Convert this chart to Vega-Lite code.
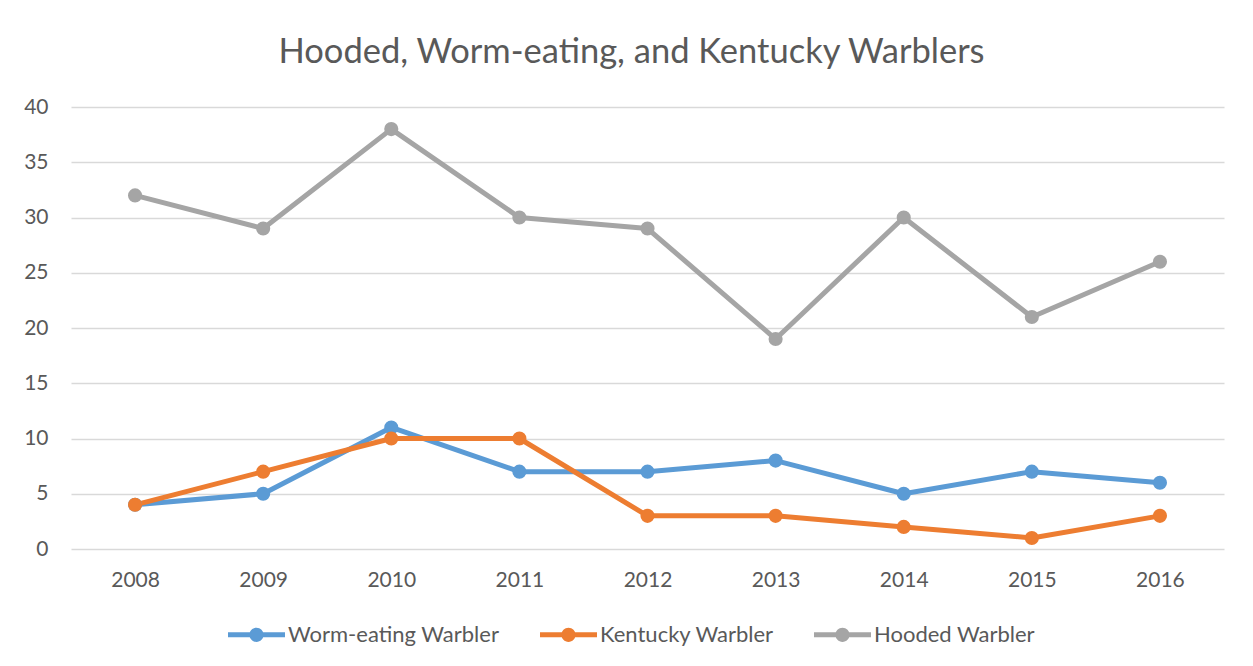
{
  "$schema": "https://vega.github.io/schema/vega-lite/v6.json",
  "width": 1153,
  "height": 442,
  "autosize": {"type": "none"},
  "padding": {"left": 71, "top": 107, "right": 29, "bottom": 117},
  "background": "white",
  "title": {
    "text": "Hooded, Worm-eating, and Kentucky Warblers",
    "font": "Lato",
    "fontSize": 34.5,
    "fontWeight": "normal",
    "color": "#595959",
    "offset": 26,
    "dx": -16
  },
  "config": {
    "view": {"stroke": null},
    "font": "Lato"
  },
  "data": {
    "values": [
      {"year": "2008", "species": "Worm-eating Warbler", "count": 4},
      {"year": "2009", "species": "Worm-eating Warbler", "count": 5},
      {"year": "2010", "species": "Worm-eating Warbler", "count": 11},
      {"year": "2011", "species": "Worm-eating Warbler", "count": 7},
      {"year": "2012", "species": "Worm-eating Warbler", "count": 7},
      {"year": "2013", "species": "Worm-eating Warbler", "count": 8},
      {"year": "2014", "species": "Worm-eating Warbler", "count": 5},
      {"year": "2015", "species": "Worm-eating Warbler", "count": 7},
      {"year": "2016", "species": "Worm-eating Warbler", "count": 6},
      {"year": "2008", "species": "Kentucky Warbler", "count": 4},
      {"year": "2009", "species": "Kentucky Warbler", "count": 7},
      {"year": "2010", "species": "Kentucky Warbler", "count": 10},
      {"year": "2011", "species": "Kentucky Warbler", "count": 10},
      {"year": "2012", "species": "Kentucky Warbler", "count": 3},
      {"year": "2013", "species": "Kentucky Warbler", "count": 3},
      {"year": "2014", "species": "Kentucky Warbler", "count": 2},
      {"year": "2015", "species": "Kentucky Warbler", "count": 1},
      {"year": "2016", "species": "Kentucky Warbler", "count": 3},
      {"year": "2008", "species": "Hooded Warbler", "count": 32},
      {"year": "2009", "species": "Hooded Warbler", "count": 29},
      {"year": "2010", "species": "Hooded Warbler", "count": 38},
      {"year": "2011", "species": "Hooded Warbler", "count": 30},
      {"year": "2012", "species": "Hooded Warbler", "count": 29},
      {"year": "2013", "species": "Hooded Warbler", "count": 19},
      {"year": "2014", "species": "Hooded Warbler", "count": 30},
      {"year": "2015", "species": "Hooded Warbler", "count": 21},
      {"year": "2016", "species": "Hooded Warbler", "count": 26}
    ]
  },
  "mark": {
    "type": "line",
    "strokeWidth": 5,
    "strokeJoin": "round",
    "strokeCap": "round",
    "point": {"size": 200, "filled": true, "opacity": 1}
  },
  "encoding": {
    "x": {
      "field": "year",
      "type": "ordinal",
      "scale": {"type": "point", "padding": 0.5},
      "axis": {
        "title": null,
        "labelAngle": 0,
        "labelFontSize": 21,
        "labelColor": "#595959",
        "labelPadding": 20,
        "ticks": false,
        "domain": false,
        "grid": false
      }
    },
    "y": {
      "field": "count",
      "type": "quantitative",
      "scale": {"domain": [0, 40], "nice": false},
      "axis": {
        "title": null,
        "values": [0, 5, 10, 15, 20, 25, 30, 35, 40],
        "labelFontSize": 21,
        "labelColor": "#595959",
        "labelPadding": 23,
        "ticks": false,
        "domain": false,
        "grid": true,
        "gridColor": "#D9D9D9",
        "gridWidth": 1.5
      }
    },
    "color": {
      "field": "species",
      "type": "nominal",
      "sort": ["Worm-eating Warbler", "Kentucky Warbler", "Hooded Warbler"],
      "scale": {
        "domain": ["Worm-eating Warbler", "Kentucky Warbler", "Hooded Warbler"],
        "range": ["#5B9BD5", "#ED7D31", "#A5A5A5"]
      },
      "legend": {
        "title": null,
        "orient": "none",
        "direction": "horizontal",
        "legendX": 157,
        "legendY": 499,
        "labelFontSize": 22,
        "labelColor": "#595959",
        "labelOffset": 3,
        "labelLimit": 500,
        "columnPadding": 40,
        "symbolType": "M-1,-0.09L1,-0.09L1,0.09L-1,0.09Z M-0.25,0A0.25,0.25 0 1,1 0.25,0A0.25,0.25 0 1,1 -0.25,0Z",
        "symbolSize": 3249,
        "symbolStrokeWidth": 0,
        "encode": {
          "symbols": {
            "update": {
              "fill": {"scale": "color", "field": "value"},
              "fillOpacity": {"value": 1},
              "strokeWidth": {"value": 0}
            }
          }
        }
      }
    }
  }
}
